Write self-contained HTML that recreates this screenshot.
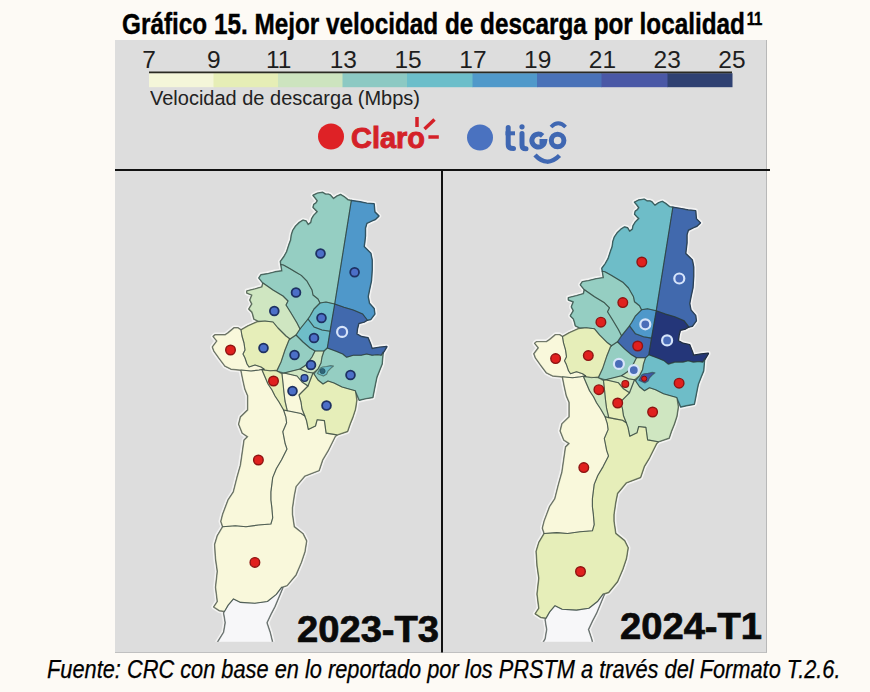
<!DOCTYPE html>
<html><head><meta charset="utf-8">
<style>
html,body{margin:0;padding:0;}
body{width:870px;height:692px;background:#FDFAF5;position:relative;overflow:hidden;font-family:"Liberation Sans",sans-serif;}
.abs{position:absolute;white-space:nowrap;}
#title{left:122px;top:9.4px;font-weight:bold;font-size:29.3px;line-height:29.3px;color:#000;transform-origin:0 0;transform:scaleX(0.830);-webkit-text-stroke:0.4px #000;}
#title sup{font-size:18px;vertical-align:0;position:relative;top:-9px;margin-left:2px;}
#panel{left:115px;top:40px;width:651px;height:612px;background:#DDDDDD;border-right:1px solid #B8B8B8;border-bottom:1px solid #C0C0C0;}
.num{position:absolute;top:45.8px;font-size:24.5px;line-height:28px;color:#1E1E1E;}
#vel{left:150px;top:85.5px;font-size:20.5px;line-height:24px;color:#222;transform-origin:0 0;transform:scaleX(0.975);}
#foot{left:47px;top:656.9px;font-style:italic;font-size:25.4px;line-height:25.4px;color:#000;transform-origin:0 0;transform:scaleX(0.858);-webkit-text-stroke:0.25px #000;}
.big{position:absolute;font-weight:bold;font-size:36.5px;line-height:36.5px;color:#0A0A0A;transform-origin:0 0;transform:scaleX(1.045);-webkit-text-stroke:0.7px #0A0A0A;}
</style></head><body>
<div id="title" class="abs">Gráfico 15. Mejor velocidad de descarga por localidad<sup>11</sup></div>
<div id="panel" class="abs"></div>
<svg width="870" height="692" style="position:absolute;left:0;top:0">
<g>
<rect x="149" y="73.2" width="65" height="14" fill="#F4F6D9"/>
<rect x="213.5" y="73.2" width="65" height="14" fill="#E6EEB6"/>
<rect x="278" y="73.2" width="65" height="14" fill="#CDE4BF"/>
<rect x="342.5" y="73.2" width="65" height="14" fill="#8CC9C3"/>
<rect x="407" y="73.2" width="66" height="14" fill="#6CBECA"/>
<rect x="472.5" y="73.2" width="65" height="14" fill="#5099CA"/>
<rect x="537" y="73.2" width="65" height="14" fill="#4A72B8"/>
<rect x="601.5" y="73.2" width="66.5" height="14" fill="#4A58A6"/>
<rect x="667.5" y="73.2" width="65" height="14" fill="#2F4172"/>
<line x1="149" y1="72.4" x2="732" y2="72.4" stroke="#2A2A22" stroke-width="1.6"/>
</g>
<!-- logos -->
<circle cx="331" cy="136.5" r="13" fill="#DE2226"/>
<text x="351" y="147.5" font-family="Liberation Sans" font-weight="bold" font-size="29" fill="#D42128" stroke="#D42128" stroke-width="0.9" textLength="74" lengthAdjust="spacingAndGlyphs">Claro</text>
<g stroke="#D42128" stroke-width="3.5" stroke-linecap="butt">
<line x1="417" y1="117" x2="417" y2="127"/>
<line x1="424.5" y1="129" x2="434.5" y2="119.5"/>
<line x1="428.4" y1="137" x2="438.8" y2="137"/>
</g>
<circle cx="480" cy="137.5" r="13" fill="#4A72C0"/>
<g fill="none" stroke="#3F67B2" stroke-linecap="round">
<path d="M508.2 127.5 V144.5 Q508.2 148.6 513.5 148.6" stroke-width="5"/>
<path d="M505.5 133.3 H515" stroke-width="4" stroke-linecap="butt"/>
<circle cx="522" cy="126.8" r="2.6" fill="#3F67B2" stroke="none"/>
<path d="M522 133.5 V145 Q522 148.8 526 148.8" stroke-width="5"/>
<path d="M542.6 135.8 A6.4 6.4 0 1 0 544.6 141.5 H539.5" stroke-width="5" stroke-linecap="butt"/>
<circle cx="557.6" cy="140.5" r="6.3" stroke-width="5"/>
<path d="M551 127 Q558.2 119.5 565.6 127" stroke-width="3.8" stroke-linecap="butt"/>
<path d="M535 155 Q547 168 559.5 155.5" stroke-width="4.5" stroke-linecap="butt"/>
</g>
<line x1="115" y1="170" x2="770" y2="170" stroke="#111" stroke-width="2"/>
<line x1="442" y1="169" x2="442" y2="652.5" stroke="#111" stroke-width="2"/>
<defs><clipPath id="clp"><rect x="115" y="170" width="652" height="471.7"/></clipPath></defs>
<g clip-path="url(#clp)">
<g fill="none" stroke="#F3F3F2" stroke-width="5" stroke-linejoin="round">
<polygon points="283.6,410.0 287.3,410.8 294.8,412.3 301.0,413.5 304.8,416.0 306.5,420.6 308.3,429.5 315.5,426.0 317.2,419.7 324.4,420.6 326.1,433.1 336.8,434.9 335.0,436.7 327.9,450.9 322.6,459.8 319.0,470.5 304.8,475.9 295.9,486.5 294.1,495.5 292.3,507.9 292.3,514.3 294.1,526.7 303.0,533.9 306.5,541.0 304.8,551.7 301.2,562.4 295.9,574.8 287.0,585.5 281.6,587.3 276.3,594.4 267.4,601.5 254.9,603.3 240.6,602.4 233.5,598.9 228.2,605.1 224.6,611.3 219.3,610.5 213.9,606.9 217.5,601.5 215.7,587.3 217.5,571.3 215.7,558.8 214.8,544.5 217.5,535.6 222.8,526.7 235.3,525.8 246.0,526.7 258.4,525.0 270.9,524.0 272.7,517.8 271.8,507.1 270.9,500.0 270.9,491.9 272.7,477.6 276.3,468.7 281.6,459.8 287.0,449.1 285.2,443.8 282.8,431.7 286.6,422.8 285.8,416.8" fill="none"/>
<polygon points="241.0,370.0 251.0,371.0 259.0,370.0 264.0,369.0 262.0,370.0 265.0,377.0 268.0,384.0 272.0,390.0 275.0,396.0 279.0,402.0 283.6,410.0 285.8,416.8 286.6,422.8 282.8,431.7 285.2,443.8 287.0,449.1 281.6,459.8 276.3,468.7 272.7,477.6 270.9,491.9 270.9,500.0 271.8,507.1 272.7,517.8 270.9,524.0 258.4,525.0 246.0,526.7 235.3,525.8 222.8,526.7 221.0,521.4 222.8,514.3 228.2,500.0 233.5,491.9 237.1,477.6 240.6,465.2 242.4,452.7 244.2,440.2 247.8,436.7 242.4,433.1 238.8,424.2 240.6,417.0 247.8,410.0 247.8,395.7 245.0,389.0 243.0,380.0" fill="none"/>
<polygon points="233.5,598.9 240.6,602.4 254.9,603.3 267.4,601.5 276.3,594.4 281.6,587.3 282.7,587.7 274.7,606.8 270.9,614.0 266.8,622.7 270.0,632.2 273.1,645.0 215.9,645.0 223.8,632.2 225.4,622.7 223.8,613.0 224.6,611.3 228.2,605.1" fill="none"/>
<polygon points="262.0,370.0 277.0,371.0 282.0,374.0 283.0,383.0 284.0,393.0 285.0,401.0 287.3,410.8 283.6,410.0 279.0,402.0 275.0,396.0 272.0,390.0 268.0,384.0 265.0,377.0" fill="none"/>
<polygon points="282.0,374.0 284.0,373.0 297.0,376.0 302.0,382.0 308.0,386.0 299.0,395.0 301.0,402.0 302.0,409.0 304.8,416.0 301.0,413.5 294.8,412.3 287.3,410.8 285.0,401.0 284.0,393.0 283.0,383.0" fill="none"/>
<polygon points="284.0,373.0 292.0,371.0 300.0,369.0 307.0,372.0 313.0,373.0 308.0,386.0 302.0,382.0 297.0,376.0" fill="none"/>
<polygon points="314.0,374.0 318.0,380.0 323.0,384.0 328.0,381.0 334.0,383.0 342.0,387.0 349.0,389.0 355.3,390.7 356.7,400.0 355.3,409.3 352.7,417.3 350.0,424.0 347.5,431.3 336.8,434.9 326.1,433.1 324.4,420.6 317.2,419.7 315.5,426.0 308.3,429.5 306.5,420.6 304.8,416.0 302.0,409.0 301.0,402.0 299.0,395.0 308.0,386.0 313.0,373.0" fill="none"/>
<polygon points="327.3,348.0 336.0,351.3 342.7,354.0 346.7,357.3 353.3,355.3 361.3,355.3 366.7,354.0 372.0,355.3 377.3,354.7 381.3,355.3 383.0,352.0 382.0,364.0 379.3,370.7 376.7,377.3 375.3,384.0 374.0,390.7 372.7,397.3 364.7,398.7 359.3,400.0 355.3,390.7 349.0,389.0 342.0,387.0 334.0,383.0 328.0,381.0 323.0,384.0 318.0,380.0 314.0,374.0 318.0,369.0 321.0,363.0 322.0,357.0 324.0,351.0" fill="none"/>
<polygon points="315.0,351.0 319.0,351.0 324.0,351.0 322.0,357.0 321.0,363.0 318.0,369.0 313.0,373.0 307.0,372.0 300.0,369.0 306.0,365.0 312.0,357.0" fill="none"/>
<polygon points="296.0,335.0 303.0,342.0 310.0,348.0 315.0,351.0 312.0,357.0 306.0,365.0 300.0,369.0 292.0,371.0 284.0,373.0 277.0,371.0 281.0,362.0 285.0,350.0 289.0,340.0 290.0,339.0" fill="none"/>
<polygon points="308.0,319.0 314.0,327.0 322.0,330.0 330.0,331.3 327.3,348.0 324.0,351.0 319.0,351.0 315.0,351.0 310.0,348.0 303.0,342.0 296.0,335.0 300.0,329.0" fill="none"/>
<polygon points="320.0,303.0 326.0,302.0 334.7,304.0 330.0,331.3 322.0,330.0 314.0,327.0 308.0,319.0 310.0,316.0 314.0,309.0" fill="none"/>
<polygon points="241.0,330.0 248.0,326.0 257.0,322.0 265.0,321.0 273.0,322.0 278.0,328.0 282.0,332.0 286.0,336.0 290.0,339.0 289.0,340.0 285.0,350.0 281.0,362.0 277.0,370.0 270.0,371.0 265.0,370.0 261.0,367.0 255.0,365.0 249.0,367.0 247.0,364.0 245.0,358.0 243.0,354.0 245.0,350.0 244.0,343.0 242.0,336.0" fill="none"/>
<polygon points="241.0,330.0 238.0,328.0 234.0,328.0 228.0,333.0 225.0,335.0 220.0,335.0 215.0,335.0 213.3,336.5 217.0,341.0 212.5,347.0 214.0,351.0 219.0,358.0 225.0,366.0 231.0,369.0 241.0,370.0 251.0,371.0 259.0,370.0 264.0,369.0 261.0,367.0 255.0,365.0 249.0,367.0 247.0,364.0 245.0,358.0 243.0,354.0 245.0,350.0 244.0,343.0 242.0,336.0" fill="none"/>
<polygon points="263.0,283.0 273.0,290.0 283.0,296.0 288.0,301.0 286.0,305.0 291.0,313.0 297.0,323.0 300.0,329.0 296.0,335.0 290.0,339.0 286.0,336.0 282.0,332.0 278.0,328.0 273.0,322.0 265.0,321.0 258.0,321.0 254.0,319.0 253.0,315.0 252.0,312.0 249.0,309.0 252.0,304.0 250.0,300.0 252.0,295.0 247.0,293.0 247.0,291.0 255.0,289.0 262.0,287.0" fill="none"/>
<polygon points="283.4,265.0 289.7,268.5 295.5,272.0 301.3,275.4 307.0,281.2 312.0,290.0 313.0,295.0 318.0,299.0 320.0,303.0 314.0,309.0 310.0,316.0 308.0,319.0 300.0,329.0 297.0,323.0 291.0,313.0 286.0,305.0 288.0,301.0 283.0,296.0 273.0,290.0 263.0,283.0 259.0,278.0 261.0,275.0 267.0,274.0 275.0,272.0 282.0,271.0 281.0,264.5" fill="none"/>
<polygon points="313.2,195.4 317.5,193.3 322.6,192.5 325.5,194.3 328.4,194.3 330.2,195.1 333.4,198.7 337.3,196.0 340.7,194.7 344.0,196.7 348.0,200.0 351.3,200.7 334.7,304.0 326.0,302.0 320.0,303.0 318.0,299.0 313.0,295.0 312.0,290.0 307.0,281.2 301.3,275.4 295.5,272.0 289.7,268.5 283.4,265.0 281.0,264.5 280.5,261.6 283.9,256.9 286.7,252.0 289.3,244.0 290.8,240.0 291.5,234.8 292.9,230.5 295.8,226.1 299.5,222.5 303.1,220.3 306.0,221.1 308.1,224.7 311.0,222.5 311.7,218.9 313.9,215.3 317.5,211.7 315.3,209.5 313.2,207.3 313.9,204.5 316.1,203.0 317.5,200.8 315.3,197.9" fill="none"/>
<polygon points="351.3,200.7 360.0,202.0 366.7,203.3 374.0,204.0 374.7,212.0 378.7,216.0 375.3,219.3 372.0,220.7 366.7,223.3 365.3,228.0 365.3,236.0 364.7,241.3 364.0,246.7 368.0,250.7 370.7,253.3 372.0,260.0 372.0,270.0 371.3,280.7 369.3,290.0 368.0,296.7 369.3,303.3 374.0,308.7 374.7,314.0 370.7,319.3 367.3,320.0 362.7,314.0 353.3,310.0 344.0,307.3 334.7,304.0" fill="none"/>
<polygon points="334.7,304.0 344.0,307.3 353.3,310.0 362.7,314.0 367.3,320.0 364.0,322.0 358.7,323.3 357.3,328.7 356.7,334.0 361.3,336.7 368.0,338.0 370.7,344.7 372.0,348.7 380.0,347.3 386.7,346.7 384.0,351.3 381.3,355.3 377.3,354.7 372.0,355.3 366.7,354.0 361.3,355.3 353.3,355.3 346.7,357.3 342.7,354.0 336.0,351.3 327.3,348.0 330.0,331.3" fill="none"/>
<polygon points="317.4,373.4 320.2,368.3 322.5,367.0 326.6,366.5 330.7,365.6 333.5,366.0 330.7,368.3 328.0,371.1 326.6,374.3 323.4,376.1 318.8,374.3" fill="none"/>
<polygon points="605.1,416.8 608.8,417.6 616.3,419.1 622.5,420.3 626.3,422.8 628.0,427.4 629.8,436.3 637.0,432.8 638.7,426.5 645.9,427.4 647.6,439.9 658.3,441.7 656.5,443.5 649.4,457.7 644.1,466.6 640.5,477.3 626.3,482.7 617.4,493.3 615.6,502.3 613.8,514.7 613.8,521.1 615.6,533.5 624.5,540.7 628.0,547.8 626.3,558.5 622.7,569.2 617.4,581.6 608.5,592.3 603.1,594.1 597.8,601.2 588.9,608.3 576.4,610.1 562.1,609.2 555.0,605.7 549.7,611.9 546.1,618.1 540.8,617.3 535.4,613.7 539.0,608.3 537.2,594.1 539.0,578.1 537.2,565.6 536.3,551.3 539.0,542.4 544.3,533.5 556.8,532.6 567.5,533.5 579.9,531.8 592.4,530.8 594.2,524.6 593.3,513.9 592.4,506.8 592.4,498.7 594.2,484.4 597.8,475.5 603.1,466.6 608.5,455.9 606.7,450.6 604.3,438.5 608.1,429.6 607.3,423.6" fill="none"/>
<polygon points="562.5,376.8 572.5,377.8 580.5,376.8 585.5,375.8 583.5,376.8 586.5,383.8 589.5,390.8 593.5,396.8 596.5,402.8 600.5,408.8 605.1,416.8 607.3,423.6 608.1,429.6 604.3,438.5 606.7,450.6 608.5,455.9 603.1,466.6 597.8,475.5 594.2,484.4 592.4,498.7 592.4,506.8 593.3,513.9 594.2,524.6 592.4,530.8 579.9,531.8 567.5,533.5 556.8,532.6 544.3,533.5 542.5,528.2 544.3,521.1 549.7,506.8 555.0,498.7 558.6,484.4 562.1,472.0 563.9,459.5 565.7,447.0 569.3,443.5 563.9,439.9 560.3,431.0 562.1,423.8 569.3,416.8 569.3,402.5 566.5,395.8 564.5,386.8" fill="none"/>
<polygon points="555.0,605.7 562.1,609.2 576.4,610.1 588.9,608.3 597.8,601.2 603.1,594.1 604.2,594.5 596.2,613.6 592.4,620.8 588.3,629.5 591.5,639.0 594.6,651.8 537.4,651.8 545.3,639.0 546.9,629.5 545.3,619.8 546.1,618.1 549.7,611.9" fill="none"/>
<polygon points="583.5,376.8 598.5,377.8 603.5,380.8 604.5,389.8 605.5,399.8 606.5,407.8 608.8,417.6 605.1,416.8 600.5,408.8 596.5,402.8 593.5,396.8 589.5,390.8 586.5,383.8" fill="none"/>
<polygon points="603.5,380.8 605.5,379.8 618.5,382.8 623.5,388.8 629.5,392.8 620.5,401.8 622.5,408.8 623.5,415.8 626.3,422.8 622.5,420.3 616.3,419.1 608.8,417.6 606.5,407.8 605.5,399.8 604.5,389.8" fill="none"/>
<polygon points="605.5,379.8 613.5,377.8 621.5,375.8 628.5,378.8 634.5,379.8 629.5,392.8 623.5,388.8 618.5,382.8" fill="none"/>
<polygon points="635.5,380.8 639.5,386.8 644.5,390.8 649.5,387.8 655.5,389.8 663.5,393.8 670.5,395.8 676.8,397.5 678.2,406.8 676.8,416.1 674.2,424.1 671.5,430.8 669.0,438.1 658.3,441.7 647.6,439.9 645.9,427.4 638.7,426.5 637.0,432.8 629.8,436.3 628.0,427.4 626.3,422.8 623.5,415.8 622.5,408.8 620.5,401.8 629.5,392.8 634.5,379.8" fill="none"/>
<polygon points="648.8,354.8 657.5,358.1 664.2,360.8 668.2,364.1 674.8,362.1 682.8,362.1 688.2,360.8 693.5,362.1 698.8,361.5 702.8,362.1 704.5,358.8 703.5,370.8 700.8,377.5 698.2,384.1 696.8,390.8 695.5,397.5 694.2,404.1 686.2,405.5 680.8,406.8 676.8,397.5 670.5,395.8 663.5,393.8 655.5,389.8 649.5,387.8 644.5,390.8 639.5,386.8 635.5,380.8 639.5,375.8 642.5,369.8 643.5,363.8 645.5,357.8" fill="none"/>
<polygon points="636.5,357.8 640.5,357.8 645.5,357.8 643.5,363.8 642.5,369.8 639.5,375.8 634.5,379.8 628.5,378.8 621.5,375.8 627.5,371.8 633.5,363.8" fill="none"/>
<polygon points="617.5,341.8 624.5,348.8 631.5,354.8 636.5,357.8 633.5,363.8 627.5,371.8 621.5,375.8 613.5,377.8 605.5,379.8 598.5,377.8 602.5,368.8 606.5,356.8 610.5,346.8 611.5,345.8" fill="none"/>
<polygon points="629.5,325.8 635.5,333.8 643.5,336.8 651.5,338.1 648.8,354.8 645.5,357.8 640.5,357.8 636.5,357.8 631.5,354.8 624.5,348.8 617.5,341.8 621.5,335.8" fill="none"/>
<polygon points="641.5,309.8 647.5,308.8 656.2,310.8 651.5,338.1 643.5,336.8 635.5,333.8 629.5,325.8 631.5,322.8 635.5,315.8" fill="none"/>
<polygon points="562.5,336.8 569.5,332.8 578.5,328.8 586.5,327.8 594.5,328.8 599.5,334.8 603.5,338.8 607.5,342.8 611.5,345.8 610.5,346.8 606.5,356.8 602.5,368.8 598.5,376.8 591.5,377.8 586.5,376.8 582.5,373.8 576.5,371.8 570.5,373.8 568.5,370.8 566.5,364.8 564.5,360.8 566.5,356.8 565.5,349.8 563.5,342.8" fill="none"/>
<polygon points="562.5,336.8 559.5,334.8 555.5,334.8 549.5,339.8 546.5,341.8 541.5,341.8 536.5,341.8 534.8,343.3 538.5,347.8 534.0,353.8 535.5,357.8 540.5,364.8 546.5,372.8 552.5,375.8 562.5,376.8 572.5,377.8 580.5,376.8 585.5,375.8 582.5,373.8 576.5,371.8 570.5,373.8 568.5,370.8 566.5,364.8 564.5,360.8 566.5,356.8 565.5,349.8 563.5,342.8" fill="none"/>
<polygon points="584.5,289.8 594.5,296.8 604.5,302.8 609.5,307.8 607.5,311.8 612.5,319.8 618.5,329.8 621.5,335.8 617.5,341.8 611.5,345.8 607.5,342.8 603.5,338.8 599.5,334.8 594.5,328.8 586.5,327.8 579.5,327.8 575.5,325.8 574.5,321.8 573.5,318.8 570.5,315.8 573.5,310.8 571.5,306.8 573.5,301.8 568.5,299.8 568.5,297.8 576.5,295.8 583.5,293.8" fill="none"/>
<polygon points="604.9,271.8 611.2,275.3 617.0,278.8 622.8,282.2 628.5,288.0 633.5,296.8 634.5,301.8 639.5,305.8 641.5,309.8 635.5,315.8 631.5,322.8 629.5,325.8 621.5,335.8 618.5,329.8 612.5,319.8 607.5,311.8 609.5,307.8 604.5,302.8 594.5,296.8 584.5,289.8 580.5,284.8 582.5,281.8 588.5,280.8 596.5,278.8 603.5,277.8 602.5,271.3" fill="none"/>
<polygon points="634.7,202.2 639.0,200.1 644.1,199.3 647.0,201.1 649.9,201.1 651.7,201.9 654.9,205.5 658.8,202.8 662.2,201.5 665.5,203.5 669.5,206.8 672.8,207.5 656.2,310.8 647.5,308.8 641.5,309.8 639.5,305.8 634.5,301.8 633.5,296.8 628.5,288.0 622.8,282.2 617.0,278.8 611.2,275.3 604.9,271.8 602.5,271.3 602.0,268.4 605.4,263.7 608.2,258.8 610.8,250.8 612.3,246.8 613.0,241.6 614.4,237.3 617.3,232.9 621.0,229.3 624.6,227.1 627.5,227.9 629.6,231.5 632.5,229.3 633.2,225.7 635.4,222.1 639.0,218.5 636.8,216.3 634.7,214.1 635.4,211.3 637.6,209.8 639.0,207.6 636.8,204.7" fill="none"/>
<polygon points="672.8,207.5 681.5,208.8 688.2,210.1 695.5,210.8 696.2,218.8 700.2,222.8 696.8,226.1 693.5,227.5 688.2,230.1 686.8,234.8 686.8,242.8 686.2,248.1 685.5,253.5 689.5,257.5 692.2,260.1 693.5,266.8 693.5,276.8 692.8,287.5 690.8,296.8 689.5,303.5 690.8,310.1 695.5,315.5 696.2,320.8 692.2,326.1 688.8,326.8 684.2,320.8 674.8,316.8 665.5,314.1 656.2,310.8" fill="none"/>
<polygon points="656.2,310.8 665.5,314.1 674.8,316.8 684.2,320.8 688.8,326.8 685.5,328.8 680.2,330.1 678.8,335.5 678.2,340.8 682.8,343.5 689.5,344.8 692.2,351.5 693.5,355.5 701.5,354.1 708.2,353.5 705.5,358.1 702.8,362.1 698.8,361.5 693.5,362.1 688.2,360.8 682.8,362.1 674.8,362.1 668.2,364.1 664.2,360.8 657.5,358.1 648.8,354.8 651.5,338.1" fill="none"/>
<polygon points="638.9,380.2 641.7,375.1 644.0,373.8 648.1,373.3 652.2,372.4 655.0,372.8 652.2,375.1 649.5,377.9 648.1,381.1 644.9,382.9 640.3,381.1" fill="none"/>
</g>
<g fill="none" stroke-width="1.8" stroke-linejoin="round">
<polygon points="283.6,410.0 287.3,410.8 294.8,412.3 301.0,413.5 304.8,416.0 306.5,420.6 308.3,429.5 315.5,426.0 317.2,419.7 324.4,420.6 326.1,433.1 336.8,434.9 335.0,436.7 327.9,450.9 322.6,459.8 319.0,470.5 304.8,475.9 295.9,486.5 294.1,495.5 292.3,507.9 292.3,514.3 294.1,526.7 303.0,533.9 306.5,541.0 304.8,551.7 301.2,562.4 295.9,574.8 287.0,585.5 281.6,587.3 276.3,594.4 267.4,601.5 254.9,603.3 240.6,602.4 233.5,598.9 228.2,605.1 224.6,611.3 219.3,610.5 213.9,606.9 217.5,601.5 215.7,587.3 217.5,571.3 215.7,558.8 214.8,544.5 217.5,535.6 222.8,526.7 235.3,525.8 246.0,526.7 258.4,525.0 270.9,524.0 272.7,517.8 271.8,507.1 270.9,500.0 270.9,491.9 272.7,477.6 276.3,468.7 281.6,459.8 287.0,449.1 285.2,443.8 282.8,431.7 286.6,422.8 285.8,416.8" stroke="#888878"/>
<polygon points="241.0,370.0 251.0,371.0 259.0,370.0 264.0,369.0 262.0,370.0 265.0,377.0 268.0,384.0 272.0,390.0 275.0,396.0 279.0,402.0 283.6,410.0 285.8,416.8 286.6,422.8 282.8,431.7 285.2,443.8 287.0,449.1 281.6,459.8 276.3,468.7 272.7,477.6 270.9,491.9 270.9,500.0 271.8,507.1 272.7,517.8 270.9,524.0 258.4,525.0 246.0,526.7 235.3,525.8 222.8,526.7 221.0,521.4 222.8,514.3 228.2,500.0 233.5,491.9 237.1,477.6 240.6,465.2 242.4,452.7 244.2,440.2 247.8,436.7 242.4,433.1 238.8,424.2 240.6,417.0 247.8,410.0 247.8,395.7 245.0,389.0 243.0,380.0" stroke="#888878"/>
<polygon points="233.5,598.9 240.6,602.4 254.9,603.3 267.4,601.5 276.3,594.4 281.6,587.3 282.7,587.7 274.7,606.8 270.9,614.0 266.8,622.7 270.0,632.2 273.1,645.0 215.9,645.0 223.8,632.2 225.4,622.7 223.8,613.0 224.6,611.3 228.2,605.1" stroke="#878788"/>
<polygon points="262.0,370.0 277.0,371.0 282.0,374.0 283.0,383.0 284.0,393.0 285.0,401.0 287.3,410.8 283.6,410.0 279.0,402.0 275.0,396.0 272.0,390.0 268.0,384.0 265.0,377.0" stroke="#7E8265"/>
<polygon points="282.0,374.0 284.0,373.0 297.0,376.0 302.0,382.0 308.0,386.0 299.0,395.0 301.0,402.0 302.0,409.0 304.8,416.0 301.0,413.5 294.8,412.3 287.3,410.8 285.0,401.0 284.0,393.0 283.0,383.0" stroke="#888878"/>
<polygon points="284.0,373.0 292.0,371.0 300.0,369.0 307.0,372.0 313.0,373.0 308.0,386.0 302.0,382.0 297.0,376.0" stroke="#717E6A"/>
<polygon points="314.0,374.0 318.0,380.0 323.0,384.0 328.0,381.0 334.0,383.0 342.0,387.0 349.0,389.0 355.3,390.7 356.7,400.0 355.3,409.3 352.7,417.3 350.0,424.0 347.5,431.3 336.8,434.9 326.1,433.1 324.4,420.6 317.2,419.7 315.5,426.0 308.3,429.5 306.5,420.6 304.8,416.0 302.0,409.0 301.0,402.0 299.0,395.0 308.0,386.0 313.0,373.0" stroke="#7E8265"/>
<polygon points="327.3,348.0 336.0,351.3 342.7,354.0 346.7,357.3 353.3,355.3 361.3,355.3 366.7,354.0 372.0,355.3 377.3,354.7 381.3,355.3 383.0,352.0 382.0,364.0 379.3,370.7 376.7,377.3 375.3,384.0 374.0,390.7 372.7,397.3 364.7,398.7 359.3,400.0 355.3,390.7 349.0,389.0 342.0,387.0 334.0,383.0 328.0,381.0 323.0,384.0 318.0,380.0 314.0,374.0 318.0,369.0 321.0,363.0 322.0,357.0 324.0,351.0" stroke="#51716A"/>
<polygon points="315.0,351.0 319.0,351.0 324.0,351.0 322.0,357.0 321.0,363.0 318.0,369.0 313.0,373.0 307.0,372.0 300.0,369.0 306.0,365.0 312.0,357.0" stroke="#717E6A"/>
<polygon points="296.0,335.0 303.0,342.0 310.0,348.0 315.0,351.0 312.0,357.0 306.0,365.0 300.0,369.0 292.0,371.0 284.0,373.0 277.0,371.0 281.0,362.0 285.0,350.0 289.0,340.0 290.0,339.0" stroke="#51716A"/>
<polygon points="308.0,319.0 314.0,327.0 322.0,330.0 330.0,331.3 327.3,348.0 324.0,351.0 319.0,351.0 315.0,351.0 310.0,348.0 303.0,342.0 296.0,335.0 300.0,329.0" stroke="#3C676E"/>
<polygon points="320.0,303.0 326.0,302.0 334.7,304.0 330.0,331.3 322.0,330.0 314.0,327.0 308.0,319.0 310.0,316.0 314.0,309.0" stroke="#3C676E"/>
<polygon points="241.0,330.0 248.0,326.0 257.0,322.0 265.0,321.0 273.0,322.0 278.0,328.0 282.0,332.0 286.0,336.0 290.0,339.0 289.0,340.0 285.0,350.0 281.0,362.0 277.0,370.0 270.0,371.0 265.0,370.0 261.0,367.0 255.0,365.0 249.0,367.0 247.0,364.0 245.0,358.0 243.0,354.0 245.0,350.0 244.0,343.0 242.0,336.0" stroke="#7E8265"/>
<polygon points="241.0,330.0 238.0,328.0 234.0,328.0 228.0,333.0 225.0,335.0 220.0,335.0 215.0,335.0 213.3,336.5 217.0,341.0 212.5,347.0 214.0,351.0 219.0,358.0 225.0,366.0 231.0,369.0 241.0,370.0 251.0,371.0 259.0,370.0 264.0,369.0 261.0,367.0 255.0,365.0 249.0,367.0 247.0,364.0 245.0,358.0 243.0,354.0 245.0,350.0 244.0,343.0 242.0,336.0" stroke="#888878"/>
<polygon points="263.0,283.0 273.0,290.0 283.0,296.0 288.0,301.0 286.0,305.0 291.0,313.0 297.0,323.0 300.0,329.0 296.0,335.0 290.0,339.0 286.0,336.0 282.0,332.0 278.0,328.0 273.0,322.0 265.0,321.0 258.0,321.0 254.0,319.0 253.0,315.0 252.0,312.0 249.0,309.0 252.0,304.0 250.0,300.0 252.0,295.0 247.0,293.0 247.0,291.0 255.0,289.0 262.0,287.0" stroke="#717E6A"/>
<polygon points="283.4,265.0 289.7,268.5 295.5,272.0 301.3,275.4 307.0,281.2 312.0,290.0 313.0,295.0 318.0,299.0 320.0,303.0 314.0,309.0 310.0,316.0 308.0,319.0 300.0,329.0 297.0,323.0 291.0,313.0 286.0,305.0 288.0,301.0 283.0,296.0 273.0,290.0 263.0,283.0 259.0,278.0 261.0,275.0 267.0,274.0 275.0,272.0 282.0,271.0 281.0,264.5" stroke="#51716A"/>
<polygon points="313.2,195.4 317.5,193.3 322.6,192.5 325.5,194.3 328.4,194.3 330.2,195.1 333.4,198.7 337.3,196.0 340.7,194.7 344.0,196.7 348.0,200.0 351.3,200.7 334.7,304.0 326.0,302.0 320.0,303.0 318.0,299.0 313.0,295.0 312.0,290.0 307.0,281.2 301.3,275.4 295.5,272.0 289.7,268.5 283.4,265.0 281.0,264.5 280.5,261.6 283.9,256.9 286.7,252.0 289.3,244.0 290.8,240.0 291.5,234.8 292.9,230.5 295.8,226.1 299.5,222.5 303.1,220.3 306.0,221.1 308.1,224.7 311.0,222.5 311.7,218.9 313.9,215.3 317.5,211.7 315.3,209.5 313.2,207.3 313.9,204.5 316.1,203.0 317.5,200.8 315.3,197.9" stroke="#51716A"/>
<polygon points="351.3,200.7 360.0,202.0 366.7,203.3 374.0,204.0 374.7,212.0 378.7,216.0 375.3,219.3 372.0,220.7 366.7,223.3 365.3,228.0 365.3,236.0 364.7,241.3 364.0,246.7 368.0,250.7 370.7,253.3 372.0,260.0 372.0,270.0 371.3,280.7 369.3,290.0 368.0,296.7 369.3,303.3 374.0,308.7 374.7,314.0 370.7,319.3 367.3,320.0 362.7,314.0 353.3,310.0 344.0,307.3 334.7,304.0" stroke="#2B536F"/>
<polygon points="334.7,304.0 344.0,307.3 353.3,310.0 362.7,314.0 367.3,320.0 364.0,322.0 358.7,323.3 357.3,328.7 356.7,334.0 361.3,336.7 368.0,338.0 370.7,344.7 372.0,348.7 380.0,347.3 386.7,346.7 384.0,351.3 381.3,355.3 377.3,354.7 372.0,355.3 366.7,354.0 361.3,355.3 353.3,355.3 346.7,357.3 342.7,354.0 336.0,351.3 327.3,348.0 330.0,331.3" stroke="#23395F"/>
<polygon points="317.4,373.4 320.2,368.3 322.5,367.0 326.6,366.5 330.7,365.6 333.5,366.0 330.7,368.3 328.0,371.1 326.6,374.3 323.4,376.1 318.8,374.3" stroke="#3C676E"/>
<polygon points="605.1,416.8 608.8,417.6 616.3,419.1 622.5,420.3 626.3,422.8 628.0,427.4 629.8,436.3 637.0,432.8 638.7,426.5 645.9,427.4 647.6,439.9 658.3,441.7 656.5,443.5 649.4,457.7 644.1,466.6 640.5,477.3 626.3,482.7 617.4,493.3 615.6,502.3 613.8,514.7 613.8,521.1 615.6,533.5 624.5,540.7 628.0,547.8 626.3,558.5 622.7,569.2 617.4,581.6 608.5,592.3 603.1,594.1 597.8,601.2 588.9,608.3 576.4,610.1 562.1,609.2 555.0,605.7 549.7,611.9 546.1,618.1 540.8,617.3 535.4,613.7 539.0,608.3 537.2,594.1 539.0,578.1 537.2,565.6 536.3,551.3 539.0,542.4 544.3,533.5 556.8,532.6 567.5,533.5 579.9,531.8 592.4,530.8 594.2,524.6 593.3,513.9 592.4,506.8 592.4,498.7 594.2,484.4 597.8,475.5 603.1,466.6 608.5,455.9 606.7,450.6 604.3,438.5 608.1,429.6 607.3,423.6" stroke="#7E8265"/>
<polygon points="562.5,376.8 572.5,377.8 580.5,376.8 585.5,375.8 583.5,376.8 586.5,383.8 589.5,390.8 593.5,396.8 596.5,402.8 600.5,408.8 605.1,416.8 607.3,423.6 608.1,429.6 604.3,438.5 606.7,450.6 608.5,455.9 603.1,466.6 597.8,475.5 594.2,484.4 592.4,498.7 592.4,506.8 593.3,513.9 594.2,524.6 592.4,530.8 579.9,531.8 567.5,533.5 556.8,532.6 544.3,533.5 542.5,528.2 544.3,521.1 549.7,506.8 555.0,498.7 558.6,484.4 562.1,472.0 563.9,459.5 565.7,447.0 569.3,443.5 563.9,439.9 560.3,431.0 562.1,423.8 569.3,416.8 569.3,402.5 566.5,395.8 564.5,386.8" stroke="#888878"/>
<polygon points="555.0,605.7 562.1,609.2 576.4,610.1 588.9,608.3 597.8,601.2 603.1,594.1 604.2,594.5 596.2,613.6 592.4,620.8 588.3,629.5 591.5,639.0 594.6,651.8 537.4,651.8 545.3,639.0 546.9,629.5 545.3,619.8 546.1,618.1 549.7,611.9" stroke="#878788"/>
<polygon points="583.5,376.8 598.5,377.8 603.5,380.8 604.5,389.8 605.5,399.8 606.5,407.8 608.8,417.6 605.1,416.8 600.5,408.8 596.5,402.8 593.5,396.8 589.5,390.8 586.5,383.8" stroke="#717E6A"/>
<polygon points="603.5,380.8 605.5,379.8 618.5,382.8 623.5,388.8 629.5,392.8 620.5,401.8 622.5,408.8 623.5,415.8 626.3,422.8 622.5,420.3 616.3,419.1 608.8,417.6 606.5,407.8 605.5,399.8 604.5,389.8" stroke="#7E8265"/>
<polygon points="605.5,379.8 613.5,377.8 621.5,375.8 628.5,378.8 634.5,379.8 629.5,392.8 623.5,388.8 618.5,382.8" stroke="#717E6A"/>
<polygon points="635.5,380.8 639.5,386.8 644.5,390.8 649.5,387.8 655.5,389.8 663.5,393.8 670.5,395.8 676.8,397.5 678.2,406.8 676.8,416.1 674.2,424.1 671.5,430.8 669.0,438.1 658.3,441.7 647.6,439.9 645.9,427.4 638.7,426.5 637.0,432.8 629.8,436.3 628.0,427.4 626.3,422.8 623.5,415.8 622.5,408.8 620.5,401.8 629.5,392.8 634.5,379.8" stroke="#717E6A"/>
<polygon points="648.8,354.8 657.5,358.1 664.2,360.8 668.2,364.1 674.8,362.1 682.8,362.1 688.2,360.8 693.5,362.1 698.8,361.5 702.8,362.1 704.5,358.8 703.5,370.8 700.8,377.5 698.2,384.1 696.8,390.8 695.5,397.5 694.2,404.1 686.2,405.5 680.8,406.8 676.8,397.5 670.5,395.8 663.5,393.8 655.5,389.8 649.5,387.8 644.5,390.8 639.5,386.8 635.5,380.8 639.5,375.8 642.5,369.8 643.5,363.8 645.5,357.8" stroke="#3C676E"/>
<polygon points="636.5,357.8 640.5,357.8 645.5,357.8 643.5,363.8 642.5,369.8 639.5,375.8 634.5,379.8 628.5,378.8 621.5,375.8 627.5,371.8 633.5,363.8" stroke="#717E6A"/>
<polygon points="617.5,341.8 624.5,348.8 631.5,354.8 636.5,357.8 633.5,363.8 627.5,371.8 621.5,375.8 613.5,377.8 605.5,379.8 598.5,377.8 602.5,368.8 606.5,356.8 610.5,346.8 611.5,345.8" stroke="#51716A"/>
<polygon points="629.5,325.8 635.5,333.8 643.5,336.8 651.5,338.1 648.8,354.8 645.5,357.8 640.5,357.8 636.5,357.8 631.5,354.8 624.5,348.8 617.5,341.8 621.5,335.8" stroke="#23395F"/>
<polygon points="641.5,309.8 647.5,308.8 656.2,310.8 651.5,338.1 643.5,336.8 635.5,333.8 629.5,325.8 631.5,322.8 635.5,315.8" stroke="#2B536F"/>
<polygon points="562.5,336.8 569.5,332.8 578.5,328.8 586.5,327.8 594.5,328.8 599.5,334.8 603.5,338.8 607.5,342.8 611.5,345.8 610.5,346.8 606.5,356.8 602.5,368.8 598.5,376.8 591.5,377.8 586.5,376.8 582.5,373.8 576.5,371.8 570.5,373.8 568.5,370.8 566.5,364.8 564.5,360.8 566.5,356.8 565.5,349.8 563.5,342.8" stroke="#7E8265"/>
<polygon points="562.5,336.8 559.5,334.8 555.5,334.8 549.5,339.8 546.5,341.8 541.5,341.8 536.5,341.8 534.8,343.3 538.5,347.8 534.0,353.8 535.5,357.8 540.5,364.8 546.5,372.8 552.5,375.8 562.5,376.8 572.5,377.8 580.5,376.8 585.5,375.8 582.5,373.8 576.5,371.8 570.5,373.8 568.5,370.8 566.5,364.8 564.5,360.8 566.5,356.8 565.5,349.8 563.5,342.8" stroke="#888878"/>
<polygon points="584.5,289.8 594.5,296.8 604.5,302.8 609.5,307.8 607.5,311.8 612.5,319.8 618.5,329.8 621.5,335.8 617.5,341.8 611.5,345.8 607.5,342.8 603.5,338.8 599.5,334.8 594.5,328.8 586.5,327.8 579.5,327.8 575.5,325.8 574.5,321.8 573.5,318.8 570.5,315.8 573.5,310.8 571.5,306.8 573.5,301.8 568.5,299.8 568.5,297.8 576.5,295.8 583.5,293.8" stroke="#51716A"/>
<polygon points="604.9,271.8 611.2,275.3 617.0,278.8 622.8,282.2 628.5,288.0 633.5,296.8 634.5,301.8 639.5,305.8 641.5,309.8 635.5,315.8 631.5,322.8 629.5,325.8 621.5,335.8 618.5,329.8 612.5,319.8 607.5,311.8 609.5,307.8 604.5,302.8 594.5,296.8 584.5,289.8 580.5,284.8 582.5,281.8 588.5,280.8 596.5,278.8 603.5,277.8 602.5,271.3" stroke="#51716A"/>
<polygon points="634.7,202.2 639.0,200.1 644.1,199.3 647.0,201.1 649.9,201.1 651.7,201.9 654.9,205.5 658.8,202.8 662.2,201.5 665.5,203.5 669.5,206.8 672.8,207.5 656.2,310.8 647.5,308.8 641.5,309.8 639.5,305.8 634.5,301.8 633.5,296.8 628.5,288.0 622.8,282.2 617.0,278.8 611.2,275.3 604.9,271.8 602.5,271.3 602.0,268.4 605.4,263.7 608.2,258.8 610.8,250.8 612.3,246.8 613.0,241.6 614.4,237.3 617.3,232.9 621.0,229.3 624.6,227.1 627.5,227.9 629.6,231.5 632.5,229.3 633.2,225.7 635.4,222.1 639.0,218.5 636.8,216.3 634.7,214.1 635.4,211.3 637.6,209.8 639.0,207.6 636.8,204.7" stroke="#3C676E"/>
<polygon points="672.8,207.5 681.5,208.8 688.2,210.1 695.5,210.8 696.2,218.8 700.2,222.8 696.8,226.1 693.5,227.5 688.2,230.1 686.8,234.8 686.8,242.8 686.2,248.1 685.5,253.5 689.5,257.5 692.2,260.1 693.5,266.8 693.5,276.8 692.8,287.5 690.8,296.8 689.5,303.5 690.8,310.1 695.5,315.5 696.2,320.8 692.2,326.1 688.8,326.8 684.2,320.8 674.8,316.8 665.5,314.1 656.2,310.8" stroke="#23395F"/>
<polygon points="656.2,310.8 665.5,314.1 674.8,316.8 684.2,320.8 688.8,326.8 685.5,328.8 680.2,330.1 678.8,335.5 678.2,340.8 682.8,343.5 689.5,344.8 692.2,351.5 693.5,355.5 701.5,354.1 708.2,353.5 705.5,358.1 702.8,362.1 698.8,361.5 693.5,362.1 688.2,360.8 682.8,362.1 674.8,362.1 668.2,364.1 664.2,360.8 657.5,358.1 648.8,354.8 651.5,338.1" stroke="#131D42"/>
<polygon points="638.9,380.2 641.7,375.1 644.0,373.8 648.1,373.3 652.2,372.4 655.0,372.8 652.2,375.1 649.5,377.9 648.1,381.1 644.9,382.9 640.3,381.1" stroke="#22305B"/>
</g>
<polygon points="283.6,410.0 287.3,410.8 294.8,412.3 301.0,413.5 304.8,416.0 306.5,420.6 308.3,429.5 315.5,426.0 317.2,419.7 324.4,420.6 326.1,433.1 336.8,434.9 335.0,436.7 327.9,450.9 322.6,459.8 319.0,470.5 304.8,475.9 295.9,486.5 294.1,495.5 292.3,507.9 292.3,514.3 294.1,526.7 303.0,533.9 306.5,541.0 304.8,551.7 301.2,562.4 295.9,574.8 287.0,585.5 281.6,587.3 276.3,594.4 267.4,601.5 254.9,603.3 240.6,602.4 233.5,598.9 228.2,605.1 224.6,611.3 219.3,610.5 213.9,606.9 217.5,601.5 215.7,587.3 217.5,571.3 215.7,558.8 214.8,544.5 217.5,535.6 222.8,526.7 235.3,525.8 246.0,526.7 258.4,525.0 270.9,524.0 272.7,517.8 271.8,507.1 270.9,500.0 270.9,491.9 272.7,477.6 276.3,468.7 281.6,459.8 287.0,449.1 285.2,443.8 282.8,431.7 286.6,422.8 285.8,416.8" fill="#F9F8DB"/>
<polygon points="241.0,370.0 251.0,371.0 259.0,370.0 264.0,369.0 262.0,370.0 265.0,377.0 268.0,384.0 272.0,390.0 275.0,396.0 279.0,402.0 283.6,410.0 285.8,416.8 286.6,422.8 282.8,431.7 285.2,443.8 287.0,449.1 281.6,459.8 276.3,468.7 272.7,477.6 270.9,491.9 270.9,500.0 271.8,507.1 272.7,517.8 270.9,524.0 258.4,525.0 246.0,526.7 235.3,525.8 222.8,526.7 221.0,521.4 222.8,514.3 228.2,500.0 233.5,491.9 237.1,477.6 240.6,465.2 242.4,452.7 244.2,440.2 247.8,436.7 242.4,433.1 238.8,424.2 240.6,417.0 247.8,410.0 247.8,395.7 245.0,389.0 243.0,380.0" fill="#F9F8DB"/>
<polygon points="233.5,598.9 240.6,602.4 254.9,603.3 267.4,601.5 276.3,594.4 281.6,587.3 282.7,587.7 274.7,606.8 270.9,614.0 266.8,622.7 270.0,632.2 273.1,645.0 215.9,645.0 223.8,632.2 225.4,622.7 223.8,613.0 224.6,611.3 228.2,605.1" fill="#F7F7F9"/>
<polygon points="262.0,370.0 277.0,371.0 282.0,374.0 283.0,383.0 284.0,393.0 285.0,401.0 287.3,410.8 283.6,410.0 279.0,402.0 275.0,396.0 272.0,390.0 268.0,384.0 265.0,377.0" fill="#E6EEB9"/>
<polygon points="282.0,374.0 284.0,373.0 297.0,376.0 302.0,382.0 308.0,386.0 299.0,395.0 301.0,402.0 302.0,409.0 304.8,416.0 301.0,413.5 294.8,412.3 287.3,410.8 285.0,401.0 284.0,393.0 283.0,383.0" fill="#F9F8DB"/>
<polygon points="284.0,373.0 292.0,371.0 300.0,369.0 307.0,372.0 313.0,373.0 308.0,386.0 302.0,382.0 297.0,376.0" fill="#CFE6C1"/>
<polygon points="314.0,374.0 318.0,380.0 323.0,384.0 328.0,381.0 334.0,383.0 342.0,387.0 349.0,389.0 355.3,390.7 356.7,400.0 355.3,409.3 352.7,417.3 350.0,424.0 347.5,431.3 336.8,434.9 326.1,433.1 324.4,420.6 317.2,419.7 315.5,426.0 308.3,429.5 306.5,420.6 304.8,416.0 302.0,409.0 301.0,402.0 299.0,395.0 308.0,386.0 313.0,373.0" fill="#E6EEB9"/>
<polygon points="327.3,348.0 336.0,351.3 342.7,354.0 346.7,357.3 353.3,355.3 361.3,355.3 366.7,354.0 372.0,355.3 377.3,354.7 381.3,355.3 383.0,352.0 382.0,364.0 379.3,370.7 376.7,377.3 375.3,384.0 374.0,390.7 372.7,397.3 364.7,398.7 359.3,400.0 355.3,390.7 349.0,389.0 342.0,387.0 334.0,383.0 328.0,381.0 323.0,384.0 318.0,380.0 314.0,374.0 318.0,369.0 321.0,363.0 322.0,357.0 324.0,351.0" fill="#95CEC2"/>
<polygon points="315.0,351.0 319.0,351.0 324.0,351.0 322.0,357.0 321.0,363.0 318.0,369.0 313.0,373.0 307.0,372.0 300.0,369.0 306.0,365.0 312.0,357.0" fill="#CFE6C1"/>
<polygon points="296.0,335.0 303.0,342.0 310.0,348.0 315.0,351.0 312.0,357.0 306.0,365.0 300.0,369.0 292.0,371.0 284.0,373.0 277.0,371.0 281.0,362.0 285.0,350.0 289.0,340.0 290.0,339.0" fill="#95CEC2"/>
<polygon points="308.0,319.0 314.0,327.0 322.0,330.0 330.0,331.3 327.3,348.0 324.0,351.0 319.0,351.0 315.0,351.0 310.0,348.0 303.0,342.0 296.0,335.0 300.0,329.0" fill="#6EBDC8"/>
<polygon points="320.0,303.0 326.0,302.0 334.7,304.0 330.0,331.3 322.0,330.0 314.0,327.0 308.0,319.0 310.0,316.0 314.0,309.0" fill="#6EBDC8"/>
<polygon points="241.0,330.0 248.0,326.0 257.0,322.0 265.0,321.0 273.0,322.0 278.0,328.0 282.0,332.0 286.0,336.0 290.0,339.0 289.0,340.0 285.0,350.0 281.0,362.0 277.0,370.0 270.0,371.0 265.0,370.0 261.0,367.0 255.0,365.0 249.0,367.0 247.0,364.0 245.0,358.0 243.0,354.0 245.0,350.0 244.0,343.0 242.0,336.0" fill="#E6EEB9"/>
<polygon points="241.0,330.0 238.0,328.0 234.0,328.0 228.0,333.0 225.0,335.0 220.0,335.0 215.0,335.0 213.3,336.5 217.0,341.0 212.5,347.0 214.0,351.0 219.0,358.0 225.0,366.0 231.0,369.0 241.0,370.0 251.0,371.0 259.0,370.0 264.0,369.0 261.0,367.0 255.0,365.0 249.0,367.0 247.0,364.0 245.0,358.0 243.0,354.0 245.0,350.0 244.0,343.0 242.0,336.0" fill="#F9F8DB"/>
<polygon points="263.0,283.0 273.0,290.0 283.0,296.0 288.0,301.0 286.0,305.0 291.0,313.0 297.0,323.0 300.0,329.0 296.0,335.0 290.0,339.0 286.0,336.0 282.0,332.0 278.0,328.0 273.0,322.0 265.0,321.0 258.0,321.0 254.0,319.0 253.0,315.0 252.0,312.0 249.0,309.0 252.0,304.0 250.0,300.0 252.0,295.0 247.0,293.0 247.0,291.0 255.0,289.0 262.0,287.0" fill="#CFE6C1"/>
<polygon points="283.4,265.0 289.7,268.5 295.5,272.0 301.3,275.4 307.0,281.2 312.0,290.0 313.0,295.0 318.0,299.0 320.0,303.0 314.0,309.0 310.0,316.0 308.0,319.0 300.0,329.0 297.0,323.0 291.0,313.0 286.0,305.0 288.0,301.0 283.0,296.0 273.0,290.0 263.0,283.0 259.0,278.0 261.0,275.0 267.0,274.0 275.0,272.0 282.0,271.0 281.0,264.5" fill="#95CEC2"/>
<polygon points="313.2,195.4 317.5,193.3 322.6,192.5 325.5,194.3 328.4,194.3 330.2,195.1 333.4,198.7 337.3,196.0 340.7,194.7 344.0,196.7 348.0,200.0 351.3,200.7 334.7,304.0 326.0,302.0 320.0,303.0 318.0,299.0 313.0,295.0 312.0,290.0 307.0,281.2 301.3,275.4 295.5,272.0 289.7,268.5 283.4,265.0 281.0,264.5 280.5,261.6 283.9,256.9 286.7,252.0 289.3,244.0 290.8,240.0 291.5,234.8 292.9,230.5 295.8,226.1 299.5,222.5 303.1,220.3 306.0,221.1 308.1,224.7 311.0,222.5 311.7,218.9 313.9,215.3 317.5,211.7 315.3,209.5 313.2,207.3 313.9,204.5 316.1,203.0 317.5,200.8 315.3,197.9" fill="#95CEC2"/>
<polygon points="351.3,200.7 360.0,202.0 366.7,203.3 374.0,204.0 374.7,212.0 378.7,216.0 375.3,219.3 372.0,220.7 366.7,223.3 365.3,228.0 365.3,236.0 364.7,241.3 364.0,246.7 368.0,250.7 370.7,253.3 372.0,260.0 372.0,270.0 371.3,280.7 369.3,290.0 368.0,296.7 369.3,303.3 374.0,308.7 374.7,314.0 370.7,319.3 367.3,320.0 362.7,314.0 353.3,310.0 344.0,307.3 334.7,304.0" fill="#4F98CA"/>
<polygon points="334.7,304.0 344.0,307.3 353.3,310.0 362.7,314.0 367.3,320.0 364.0,322.0 358.7,323.3 357.3,328.7 356.7,334.0 361.3,336.7 368.0,338.0 370.7,344.7 372.0,348.7 380.0,347.3 386.7,346.7 384.0,351.3 381.3,355.3 377.3,354.7 372.0,355.3 366.7,354.0 361.3,355.3 353.3,355.3 346.7,357.3 342.7,354.0 336.0,351.3 327.3,348.0 330.0,331.3" fill="#4169AD"/>
<polygon points="317.4,373.4 320.2,368.3 322.5,367.0 326.6,366.5 330.7,365.6 333.5,366.0 330.7,368.3 328.0,371.1 326.6,374.3 323.4,376.1 318.8,374.3" fill="#6EBDC8"/>
<g fill="none" stroke="#2E4038" stroke-opacity="0.55" stroke-width="1.1" stroke-linejoin="round">
<polygon points="283.6,410.0 287.3,410.8 294.8,412.3 301.0,413.5 304.8,416.0 306.5,420.6 308.3,429.5 315.5,426.0 317.2,419.7 324.4,420.6 326.1,433.1 336.8,434.9 335.0,436.7 327.9,450.9 322.6,459.8 319.0,470.5 304.8,475.9 295.9,486.5 294.1,495.5 292.3,507.9 292.3,514.3 294.1,526.7 303.0,533.9 306.5,541.0 304.8,551.7 301.2,562.4 295.9,574.8 287.0,585.5 281.6,587.3 276.3,594.4 267.4,601.5 254.9,603.3 240.6,602.4 233.5,598.9 228.2,605.1 224.6,611.3 219.3,610.5 213.9,606.9 217.5,601.5 215.7,587.3 217.5,571.3 215.7,558.8 214.8,544.5 217.5,535.6 222.8,526.7 235.3,525.8 246.0,526.7 258.4,525.0 270.9,524.0 272.7,517.8 271.8,507.1 270.9,500.0 270.9,491.9 272.7,477.6 276.3,468.7 281.6,459.8 287.0,449.1 285.2,443.8 282.8,431.7 286.6,422.8 285.8,416.8" fill="none"/>
<polygon points="241.0,370.0 251.0,371.0 259.0,370.0 264.0,369.0 262.0,370.0 265.0,377.0 268.0,384.0 272.0,390.0 275.0,396.0 279.0,402.0 283.6,410.0 285.8,416.8 286.6,422.8 282.8,431.7 285.2,443.8 287.0,449.1 281.6,459.8 276.3,468.7 272.7,477.6 270.9,491.9 270.9,500.0 271.8,507.1 272.7,517.8 270.9,524.0 258.4,525.0 246.0,526.7 235.3,525.8 222.8,526.7 221.0,521.4 222.8,514.3 228.2,500.0 233.5,491.9 237.1,477.6 240.6,465.2 242.4,452.7 244.2,440.2 247.8,436.7 242.4,433.1 238.8,424.2 240.6,417.0 247.8,410.0 247.8,395.7 245.0,389.0 243.0,380.0" fill="none"/>
<polygon points="233.5,598.9 240.6,602.4 254.9,603.3 267.4,601.5 276.3,594.4 281.6,587.3 282.7,587.7 274.7,606.8 270.9,614.0 266.8,622.7 270.0,632.2 273.1,645.0 215.9,645.0 223.8,632.2 225.4,622.7 223.8,613.0 224.6,611.3 228.2,605.1" fill="none"/>
<polygon points="262.0,370.0 277.0,371.0 282.0,374.0 283.0,383.0 284.0,393.0 285.0,401.0 287.3,410.8 283.6,410.0 279.0,402.0 275.0,396.0 272.0,390.0 268.0,384.0 265.0,377.0" fill="none"/>
<polygon points="282.0,374.0 284.0,373.0 297.0,376.0 302.0,382.0 308.0,386.0 299.0,395.0 301.0,402.0 302.0,409.0 304.8,416.0 301.0,413.5 294.8,412.3 287.3,410.8 285.0,401.0 284.0,393.0 283.0,383.0" fill="none"/>
<polygon points="284.0,373.0 292.0,371.0 300.0,369.0 307.0,372.0 313.0,373.0 308.0,386.0 302.0,382.0 297.0,376.0" fill="none"/>
<polygon points="314.0,374.0 318.0,380.0 323.0,384.0 328.0,381.0 334.0,383.0 342.0,387.0 349.0,389.0 355.3,390.7 356.7,400.0 355.3,409.3 352.7,417.3 350.0,424.0 347.5,431.3 336.8,434.9 326.1,433.1 324.4,420.6 317.2,419.7 315.5,426.0 308.3,429.5 306.5,420.6 304.8,416.0 302.0,409.0 301.0,402.0 299.0,395.0 308.0,386.0 313.0,373.0" fill="none"/>
<polygon points="327.3,348.0 336.0,351.3 342.7,354.0 346.7,357.3 353.3,355.3 361.3,355.3 366.7,354.0 372.0,355.3 377.3,354.7 381.3,355.3 383.0,352.0 382.0,364.0 379.3,370.7 376.7,377.3 375.3,384.0 374.0,390.7 372.7,397.3 364.7,398.7 359.3,400.0 355.3,390.7 349.0,389.0 342.0,387.0 334.0,383.0 328.0,381.0 323.0,384.0 318.0,380.0 314.0,374.0 318.0,369.0 321.0,363.0 322.0,357.0 324.0,351.0" fill="none"/>
<polygon points="315.0,351.0 319.0,351.0 324.0,351.0 322.0,357.0 321.0,363.0 318.0,369.0 313.0,373.0 307.0,372.0 300.0,369.0 306.0,365.0 312.0,357.0" fill="none"/>
<polygon points="296.0,335.0 303.0,342.0 310.0,348.0 315.0,351.0 312.0,357.0 306.0,365.0 300.0,369.0 292.0,371.0 284.0,373.0 277.0,371.0 281.0,362.0 285.0,350.0 289.0,340.0 290.0,339.0" fill="none"/>
<polygon points="308.0,319.0 314.0,327.0 322.0,330.0 330.0,331.3 327.3,348.0 324.0,351.0 319.0,351.0 315.0,351.0 310.0,348.0 303.0,342.0 296.0,335.0 300.0,329.0" fill="none"/>
<polygon points="320.0,303.0 326.0,302.0 334.7,304.0 330.0,331.3 322.0,330.0 314.0,327.0 308.0,319.0 310.0,316.0 314.0,309.0" fill="none"/>
<polygon points="241.0,330.0 248.0,326.0 257.0,322.0 265.0,321.0 273.0,322.0 278.0,328.0 282.0,332.0 286.0,336.0 290.0,339.0 289.0,340.0 285.0,350.0 281.0,362.0 277.0,370.0 270.0,371.0 265.0,370.0 261.0,367.0 255.0,365.0 249.0,367.0 247.0,364.0 245.0,358.0 243.0,354.0 245.0,350.0 244.0,343.0 242.0,336.0" fill="none"/>
<polygon points="241.0,330.0 238.0,328.0 234.0,328.0 228.0,333.0 225.0,335.0 220.0,335.0 215.0,335.0 213.3,336.5 217.0,341.0 212.5,347.0 214.0,351.0 219.0,358.0 225.0,366.0 231.0,369.0 241.0,370.0 251.0,371.0 259.0,370.0 264.0,369.0 261.0,367.0 255.0,365.0 249.0,367.0 247.0,364.0 245.0,358.0 243.0,354.0 245.0,350.0 244.0,343.0 242.0,336.0" fill="none"/>
<polygon points="263.0,283.0 273.0,290.0 283.0,296.0 288.0,301.0 286.0,305.0 291.0,313.0 297.0,323.0 300.0,329.0 296.0,335.0 290.0,339.0 286.0,336.0 282.0,332.0 278.0,328.0 273.0,322.0 265.0,321.0 258.0,321.0 254.0,319.0 253.0,315.0 252.0,312.0 249.0,309.0 252.0,304.0 250.0,300.0 252.0,295.0 247.0,293.0 247.0,291.0 255.0,289.0 262.0,287.0" fill="none"/>
<polygon points="283.4,265.0 289.7,268.5 295.5,272.0 301.3,275.4 307.0,281.2 312.0,290.0 313.0,295.0 318.0,299.0 320.0,303.0 314.0,309.0 310.0,316.0 308.0,319.0 300.0,329.0 297.0,323.0 291.0,313.0 286.0,305.0 288.0,301.0 283.0,296.0 273.0,290.0 263.0,283.0 259.0,278.0 261.0,275.0 267.0,274.0 275.0,272.0 282.0,271.0 281.0,264.5" fill="none"/>
<polygon points="313.2,195.4 317.5,193.3 322.6,192.5 325.5,194.3 328.4,194.3 330.2,195.1 333.4,198.7 337.3,196.0 340.7,194.7 344.0,196.7 348.0,200.0 351.3,200.7 334.7,304.0 326.0,302.0 320.0,303.0 318.0,299.0 313.0,295.0 312.0,290.0 307.0,281.2 301.3,275.4 295.5,272.0 289.7,268.5 283.4,265.0 281.0,264.5 280.5,261.6 283.9,256.9 286.7,252.0 289.3,244.0 290.8,240.0 291.5,234.8 292.9,230.5 295.8,226.1 299.5,222.5 303.1,220.3 306.0,221.1 308.1,224.7 311.0,222.5 311.7,218.9 313.9,215.3 317.5,211.7 315.3,209.5 313.2,207.3 313.9,204.5 316.1,203.0 317.5,200.8 315.3,197.9" fill="none"/>
<polygon points="351.3,200.7 360.0,202.0 366.7,203.3 374.0,204.0 374.7,212.0 378.7,216.0 375.3,219.3 372.0,220.7 366.7,223.3 365.3,228.0 365.3,236.0 364.7,241.3 364.0,246.7 368.0,250.7 370.7,253.3 372.0,260.0 372.0,270.0 371.3,280.7 369.3,290.0 368.0,296.7 369.3,303.3 374.0,308.7 374.7,314.0 370.7,319.3 367.3,320.0 362.7,314.0 353.3,310.0 344.0,307.3 334.7,304.0" fill="none"/>
<polygon points="334.7,304.0 344.0,307.3 353.3,310.0 362.7,314.0 367.3,320.0 364.0,322.0 358.7,323.3 357.3,328.7 356.7,334.0 361.3,336.7 368.0,338.0 370.7,344.7 372.0,348.7 380.0,347.3 386.7,346.7 384.0,351.3 381.3,355.3 377.3,354.7 372.0,355.3 366.7,354.0 361.3,355.3 353.3,355.3 346.7,357.3 342.7,354.0 336.0,351.3 327.3,348.0 330.0,331.3" fill="none"/>
<polygon points="317.4,373.4 320.2,368.3 322.5,367.0 326.6,366.5 330.7,365.6 333.5,366.0 330.7,368.3 328.0,371.1 326.6,374.3 323.4,376.1 318.8,374.3" fill="none"/>
</g>
<polygon points="605.1,416.8 608.8,417.6 616.3,419.1 622.5,420.3 626.3,422.8 628.0,427.4 629.8,436.3 637.0,432.8 638.7,426.5 645.9,427.4 647.6,439.9 658.3,441.7 656.5,443.5 649.4,457.7 644.1,466.6 640.5,477.3 626.3,482.7 617.4,493.3 615.6,502.3 613.8,514.7 613.8,521.1 615.6,533.5 624.5,540.7 628.0,547.8 626.3,558.5 622.7,569.2 617.4,581.6 608.5,592.3 603.1,594.1 597.8,601.2 588.9,608.3 576.4,610.1 562.1,609.2 555.0,605.7 549.7,611.9 546.1,618.1 540.8,617.3 535.4,613.7 539.0,608.3 537.2,594.1 539.0,578.1 537.2,565.6 536.3,551.3 539.0,542.4 544.3,533.5 556.8,532.6 567.5,533.5 579.9,531.8 592.4,530.8 594.2,524.6 593.3,513.9 592.4,506.8 592.4,498.7 594.2,484.4 597.8,475.5 603.1,466.6 608.5,455.9 606.7,450.6 604.3,438.5 608.1,429.6 607.3,423.6" fill="#E6EEB9"/>
<polygon points="562.5,376.8 572.5,377.8 580.5,376.8 585.5,375.8 583.5,376.8 586.5,383.8 589.5,390.8 593.5,396.8 596.5,402.8 600.5,408.8 605.1,416.8 607.3,423.6 608.1,429.6 604.3,438.5 606.7,450.6 608.5,455.9 603.1,466.6 597.8,475.5 594.2,484.4 592.4,498.7 592.4,506.8 593.3,513.9 594.2,524.6 592.4,530.8 579.9,531.8 567.5,533.5 556.8,532.6 544.3,533.5 542.5,528.2 544.3,521.1 549.7,506.8 555.0,498.7 558.6,484.4 562.1,472.0 563.9,459.5 565.7,447.0 569.3,443.5 563.9,439.9 560.3,431.0 562.1,423.8 569.3,416.8 569.3,402.5 566.5,395.8 564.5,386.8" fill="#F9F8DB"/>
<polygon points="555.0,605.7 562.1,609.2 576.4,610.1 588.9,608.3 597.8,601.2 603.1,594.1 604.2,594.5 596.2,613.6 592.4,620.8 588.3,629.5 591.5,639.0 594.6,651.8 537.4,651.8 545.3,639.0 546.9,629.5 545.3,619.8 546.1,618.1 549.7,611.9" fill="#F7F7F9"/>
<polygon points="583.5,376.8 598.5,377.8 603.5,380.8 604.5,389.8 605.5,399.8 606.5,407.8 608.8,417.6 605.1,416.8 600.5,408.8 596.5,402.8 593.5,396.8 589.5,390.8 586.5,383.8" fill="#CFE6C1"/>
<polygon points="603.5,380.8 605.5,379.8 618.5,382.8 623.5,388.8 629.5,392.8 620.5,401.8 622.5,408.8 623.5,415.8 626.3,422.8 622.5,420.3 616.3,419.1 608.8,417.6 606.5,407.8 605.5,399.8 604.5,389.8" fill="#E6EEB9"/>
<polygon points="605.5,379.8 613.5,377.8 621.5,375.8 628.5,378.8 634.5,379.8 629.5,392.8 623.5,388.8 618.5,382.8" fill="#CFE6C1"/>
<polygon points="635.5,380.8 639.5,386.8 644.5,390.8 649.5,387.8 655.5,389.8 663.5,393.8 670.5,395.8 676.8,397.5 678.2,406.8 676.8,416.1 674.2,424.1 671.5,430.8 669.0,438.1 658.3,441.7 647.6,439.9 645.9,427.4 638.7,426.5 637.0,432.8 629.8,436.3 628.0,427.4 626.3,422.8 623.5,415.8 622.5,408.8 620.5,401.8 629.5,392.8 634.5,379.8" fill="#CFE6C1"/>
<polygon points="648.8,354.8 657.5,358.1 664.2,360.8 668.2,364.1 674.8,362.1 682.8,362.1 688.2,360.8 693.5,362.1 698.8,361.5 702.8,362.1 704.5,358.8 703.5,370.8 700.8,377.5 698.2,384.1 696.8,390.8 695.5,397.5 694.2,404.1 686.2,405.5 680.8,406.8 676.8,397.5 670.5,395.8 663.5,393.8 655.5,389.8 649.5,387.8 644.5,390.8 639.5,386.8 635.5,380.8 639.5,375.8 642.5,369.8 643.5,363.8 645.5,357.8" fill="#6EBDC8"/>
<polygon points="636.5,357.8 640.5,357.8 645.5,357.8 643.5,363.8 642.5,369.8 639.5,375.8 634.5,379.8 628.5,378.8 621.5,375.8 627.5,371.8 633.5,363.8" fill="#CFE6C1"/>
<polygon points="617.5,341.8 624.5,348.8 631.5,354.8 636.5,357.8 633.5,363.8 627.5,371.8 621.5,375.8 613.5,377.8 605.5,379.8 598.5,377.8 602.5,368.8 606.5,356.8 610.5,346.8 611.5,345.8" fill="#95CEC2"/>
<polygon points="629.5,325.8 635.5,333.8 643.5,336.8 651.5,338.1 648.8,354.8 645.5,357.8 640.5,357.8 636.5,357.8 631.5,354.8 624.5,348.8 617.5,341.8 621.5,335.8" fill="#4169AD"/>
<polygon points="641.5,309.8 647.5,308.8 656.2,310.8 651.5,338.1 643.5,336.8 635.5,333.8 629.5,325.8 631.5,322.8 635.5,315.8" fill="#4F98CA"/>
<polygon points="562.5,336.8 569.5,332.8 578.5,328.8 586.5,327.8 594.5,328.8 599.5,334.8 603.5,338.8 607.5,342.8 611.5,345.8 610.5,346.8 606.5,356.8 602.5,368.8 598.5,376.8 591.5,377.8 586.5,376.8 582.5,373.8 576.5,371.8 570.5,373.8 568.5,370.8 566.5,364.8 564.5,360.8 566.5,356.8 565.5,349.8 563.5,342.8" fill="#E6EEB9"/>
<polygon points="562.5,336.8 559.5,334.8 555.5,334.8 549.5,339.8 546.5,341.8 541.5,341.8 536.5,341.8 534.8,343.3 538.5,347.8 534.0,353.8 535.5,357.8 540.5,364.8 546.5,372.8 552.5,375.8 562.5,376.8 572.5,377.8 580.5,376.8 585.5,375.8 582.5,373.8 576.5,371.8 570.5,373.8 568.5,370.8 566.5,364.8 564.5,360.8 566.5,356.8 565.5,349.8 563.5,342.8" fill="#F9F8DB"/>
<polygon points="584.5,289.8 594.5,296.8 604.5,302.8 609.5,307.8 607.5,311.8 612.5,319.8 618.5,329.8 621.5,335.8 617.5,341.8 611.5,345.8 607.5,342.8 603.5,338.8 599.5,334.8 594.5,328.8 586.5,327.8 579.5,327.8 575.5,325.8 574.5,321.8 573.5,318.8 570.5,315.8 573.5,310.8 571.5,306.8 573.5,301.8 568.5,299.8 568.5,297.8 576.5,295.8 583.5,293.8" fill="#95CEC2"/>
<polygon points="604.9,271.8 611.2,275.3 617.0,278.8 622.8,282.2 628.5,288.0 633.5,296.8 634.5,301.8 639.5,305.8 641.5,309.8 635.5,315.8 631.5,322.8 629.5,325.8 621.5,335.8 618.5,329.8 612.5,319.8 607.5,311.8 609.5,307.8 604.5,302.8 594.5,296.8 584.5,289.8 580.5,284.8 582.5,281.8 588.5,280.8 596.5,278.8 603.5,277.8 602.5,271.3" fill="#95CEC2"/>
<polygon points="634.7,202.2 639.0,200.1 644.1,199.3 647.0,201.1 649.9,201.1 651.7,201.9 654.9,205.5 658.8,202.8 662.2,201.5 665.5,203.5 669.5,206.8 672.8,207.5 656.2,310.8 647.5,308.8 641.5,309.8 639.5,305.8 634.5,301.8 633.5,296.8 628.5,288.0 622.8,282.2 617.0,278.8 611.2,275.3 604.9,271.8 602.5,271.3 602.0,268.4 605.4,263.7 608.2,258.8 610.8,250.8 612.3,246.8 613.0,241.6 614.4,237.3 617.3,232.9 621.0,229.3 624.6,227.1 627.5,227.9 629.6,231.5 632.5,229.3 633.2,225.7 635.4,222.1 639.0,218.5 636.8,216.3 634.7,214.1 635.4,211.3 637.6,209.8 639.0,207.6 636.8,204.7" fill="#6EBDC8"/>
<polygon points="672.8,207.5 681.5,208.8 688.2,210.1 695.5,210.8 696.2,218.8 700.2,222.8 696.8,226.1 693.5,227.5 688.2,230.1 686.8,234.8 686.8,242.8 686.2,248.1 685.5,253.5 689.5,257.5 692.2,260.1 693.5,266.8 693.5,276.8 692.8,287.5 690.8,296.8 689.5,303.5 690.8,310.1 695.5,315.5 696.2,320.8 692.2,326.1 688.8,326.8 684.2,320.8 674.8,316.8 665.5,314.1 656.2,310.8" fill="#4169AD"/>
<polygon points="656.2,310.8 665.5,314.1 674.8,316.8 684.2,320.8 688.8,326.8 685.5,328.8 680.2,330.1 678.8,335.5 678.2,340.8 682.8,343.5 689.5,344.8 692.2,351.5 693.5,355.5 701.5,354.1 708.2,353.5 705.5,358.1 702.8,362.1 698.8,361.5 693.5,362.1 688.2,360.8 682.8,362.1 674.8,362.1 668.2,364.1 664.2,360.8 657.5,358.1 648.8,354.8 651.5,338.1" fill="#243679"/>
<polygon points="638.9,380.2 641.7,375.1 644.0,373.8 648.1,373.3 652.2,372.4 655.0,372.8 652.2,375.1 649.5,377.9 648.1,381.1 644.9,382.9 640.3,381.1" fill="#3F58A6"/>
<g fill="none" stroke="#2E4038" stroke-opacity="0.55" stroke-width="1.1" stroke-linejoin="round">
<polygon points="605.1,416.8 608.8,417.6 616.3,419.1 622.5,420.3 626.3,422.8 628.0,427.4 629.8,436.3 637.0,432.8 638.7,426.5 645.9,427.4 647.6,439.9 658.3,441.7 656.5,443.5 649.4,457.7 644.1,466.6 640.5,477.3 626.3,482.7 617.4,493.3 615.6,502.3 613.8,514.7 613.8,521.1 615.6,533.5 624.5,540.7 628.0,547.8 626.3,558.5 622.7,569.2 617.4,581.6 608.5,592.3 603.1,594.1 597.8,601.2 588.9,608.3 576.4,610.1 562.1,609.2 555.0,605.7 549.7,611.9 546.1,618.1 540.8,617.3 535.4,613.7 539.0,608.3 537.2,594.1 539.0,578.1 537.2,565.6 536.3,551.3 539.0,542.4 544.3,533.5 556.8,532.6 567.5,533.5 579.9,531.8 592.4,530.8 594.2,524.6 593.3,513.9 592.4,506.8 592.4,498.7 594.2,484.4 597.8,475.5 603.1,466.6 608.5,455.9 606.7,450.6 604.3,438.5 608.1,429.6 607.3,423.6" fill="none"/>
<polygon points="562.5,376.8 572.5,377.8 580.5,376.8 585.5,375.8 583.5,376.8 586.5,383.8 589.5,390.8 593.5,396.8 596.5,402.8 600.5,408.8 605.1,416.8 607.3,423.6 608.1,429.6 604.3,438.5 606.7,450.6 608.5,455.9 603.1,466.6 597.8,475.5 594.2,484.4 592.4,498.7 592.4,506.8 593.3,513.9 594.2,524.6 592.4,530.8 579.9,531.8 567.5,533.5 556.8,532.6 544.3,533.5 542.5,528.2 544.3,521.1 549.7,506.8 555.0,498.7 558.6,484.4 562.1,472.0 563.9,459.5 565.7,447.0 569.3,443.5 563.9,439.9 560.3,431.0 562.1,423.8 569.3,416.8 569.3,402.5 566.5,395.8 564.5,386.8" fill="none"/>
<polygon points="555.0,605.7 562.1,609.2 576.4,610.1 588.9,608.3 597.8,601.2 603.1,594.1 604.2,594.5 596.2,613.6 592.4,620.8 588.3,629.5 591.5,639.0 594.6,651.8 537.4,651.8 545.3,639.0 546.9,629.5 545.3,619.8 546.1,618.1 549.7,611.9" fill="none"/>
<polygon points="583.5,376.8 598.5,377.8 603.5,380.8 604.5,389.8 605.5,399.8 606.5,407.8 608.8,417.6 605.1,416.8 600.5,408.8 596.5,402.8 593.5,396.8 589.5,390.8 586.5,383.8" fill="none"/>
<polygon points="603.5,380.8 605.5,379.8 618.5,382.8 623.5,388.8 629.5,392.8 620.5,401.8 622.5,408.8 623.5,415.8 626.3,422.8 622.5,420.3 616.3,419.1 608.8,417.6 606.5,407.8 605.5,399.8 604.5,389.8" fill="none"/>
<polygon points="605.5,379.8 613.5,377.8 621.5,375.8 628.5,378.8 634.5,379.8 629.5,392.8 623.5,388.8 618.5,382.8" fill="none"/>
<polygon points="635.5,380.8 639.5,386.8 644.5,390.8 649.5,387.8 655.5,389.8 663.5,393.8 670.5,395.8 676.8,397.5 678.2,406.8 676.8,416.1 674.2,424.1 671.5,430.8 669.0,438.1 658.3,441.7 647.6,439.9 645.9,427.4 638.7,426.5 637.0,432.8 629.8,436.3 628.0,427.4 626.3,422.8 623.5,415.8 622.5,408.8 620.5,401.8 629.5,392.8 634.5,379.8" fill="none"/>
<polygon points="648.8,354.8 657.5,358.1 664.2,360.8 668.2,364.1 674.8,362.1 682.8,362.1 688.2,360.8 693.5,362.1 698.8,361.5 702.8,362.1 704.5,358.8 703.5,370.8 700.8,377.5 698.2,384.1 696.8,390.8 695.5,397.5 694.2,404.1 686.2,405.5 680.8,406.8 676.8,397.5 670.5,395.8 663.5,393.8 655.5,389.8 649.5,387.8 644.5,390.8 639.5,386.8 635.5,380.8 639.5,375.8 642.5,369.8 643.5,363.8 645.5,357.8" fill="none"/>
<polygon points="636.5,357.8 640.5,357.8 645.5,357.8 643.5,363.8 642.5,369.8 639.5,375.8 634.5,379.8 628.5,378.8 621.5,375.8 627.5,371.8 633.5,363.8" fill="none"/>
<polygon points="617.5,341.8 624.5,348.8 631.5,354.8 636.5,357.8 633.5,363.8 627.5,371.8 621.5,375.8 613.5,377.8 605.5,379.8 598.5,377.8 602.5,368.8 606.5,356.8 610.5,346.8 611.5,345.8" fill="none"/>
<polygon points="629.5,325.8 635.5,333.8 643.5,336.8 651.5,338.1 648.8,354.8 645.5,357.8 640.5,357.8 636.5,357.8 631.5,354.8 624.5,348.8 617.5,341.8 621.5,335.8" fill="none"/>
<polygon points="641.5,309.8 647.5,308.8 656.2,310.8 651.5,338.1 643.5,336.8 635.5,333.8 629.5,325.8 631.5,322.8 635.5,315.8" fill="none"/>
<polygon points="562.5,336.8 569.5,332.8 578.5,328.8 586.5,327.8 594.5,328.8 599.5,334.8 603.5,338.8 607.5,342.8 611.5,345.8 610.5,346.8 606.5,356.8 602.5,368.8 598.5,376.8 591.5,377.8 586.5,376.8 582.5,373.8 576.5,371.8 570.5,373.8 568.5,370.8 566.5,364.8 564.5,360.8 566.5,356.8 565.5,349.8 563.5,342.8" fill="none"/>
<polygon points="562.5,336.8 559.5,334.8 555.5,334.8 549.5,339.8 546.5,341.8 541.5,341.8 536.5,341.8 534.8,343.3 538.5,347.8 534.0,353.8 535.5,357.8 540.5,364.8 546.5,372.8 552.5,375.8 562.5,376.8 572.5,377.8 580.5,376.8 585.5,375.8 582.5,373.8 576.5,371.8 570.5,373.8 568.5,370.8 566.5,364.8 564.5,360.8 566.5,356.8 565.5,349.8 563.5,342.8" fill="none"/>
<polygon points="584.5,289.8 594.5,296.8 604.5,302.8 609.5,307.8 607.5,311.8 612.5,319.8 618.5,329.8 621.5,335.8 617.5,341.8 611.5,345.8 607.5,342.8 603.5,338.8 599.5,334.8 594.5,328.8 586.5,327.8 579.5,327.8 575.5,325.8 574.5,321.8 573.5,318.8 570.5,315.8 573.5,310.8 571.5,306.8 573.5,301.8 568.5,299.8 568.5,297.8 576.5,295.8 583.5,293.8" fill="none"/>
<polygon points="604.9,271.8 611.2,275.3 617.0,278.8 622.8,282.2 628.5,288.0 633.5,296.8 634.5,301.8 639.5,305.8 641.5,309.8 635.5,315.8 631.5,322.8 629.5,325.8 621.5,335.8 618.5,329.8 612.5,319.8 607.5,311.8 609.5,307.8 604.5,302.8 594.5,296.8 584.5,289.8 580.5,284.8 582.5,281.8 588.5,280.8 596.5,278.8 603.5,277.8 602.5,271.3" fill="none"/>
<polygon points="634.7,202.2 639.0,200.1 644.1,199.3 647.0,201.1 649.9,201.1 651.7,201.9 654.9,205.5 658.8,202.8 662.2,201.5 665.5,203.5 669.5,206.8 672.8,207.5 656.2,310.8 647.5,308.8 641.5,309.8 639.5,305.8 634.5,301.8 633.5,296.8 628.5,288.0 622.8,282.2 617.0,278.8 611.2,275.3 604.9,271.8 602.5,271.3 602.0,268.4 605.4,263.7 608.2,258.8 610.8,250.8 612.3,246.8 613.0,241.6 614.4,237.3 617.3,232.9 621.0,229.3 624.6,227.1 627.5,227.9 629.6,231.5 632.5,229.3 633.2,225.7 635.4,222.1 639.0,218.5 636.8,216.3 634.7,214.1 635.4,211.3 637.6,209.8 639.0,207.6 636.8,204.7" fill="none"/>
<polygon points="672.8,207.5 681.5,208.8 688.2,210.1 695.5,210.8 696.2,218.8 700.2,222.8 696.8,226.1 693.5,227.5 688.2,230.1 686.8,234.8 686.8,242.8 686.2,248.1 685.5,253.5 689.5,257.5 692.2,260.1 693.5,266.8 693.5,276.8 692.8,287.5 690.8,296.8 689.5,303.5 690.8,310.1 695.5,315.5 696.2,320.8 692.2,326.1 688.8,326.8 684.2,320.8 674.8,316.8 665.5,314.1 656.2,310.8" fill="none"/>
<polygon points="656.2,310.8 665.5,314.1 674.8,316.8 684.2,320.8 688.8,326.8 685.5,328.8 680.2,330.1 678.8,335.5 678.2,340.8 682.8,343.5 689.5,344.8 692.2,351.5 693.5,355.5 701.5,354.1 708.2,353.5 705.5,358.1 702.8,362.1 698.8,361.5 693.5,362.1 688.2,360.8 682.8,362.1 674.8,362.1 668.2,364.1 664.2,360.8 657.5,358.1 648.8,354.8 651.5,338.1" fill="none"/>
<polygon points="638.9,380.2 641.7,375.1 644.0,373.8 648.1,373.3 652.2,372.4 655.0,372.8 652.2,375.1 649.5,377.9 648.1,381.1 644.9,382.9 640.3,381.1" fill="none"/>
</g>
</g>

<circle cx="320.5" cy="253.5" r="4.4" fill="#4C6FC8" stroke="#1E3163" stroke-width="1.8"/>
<circle cx="354.6" cy="272.2" r="4.4" fill="#4C6FC8" stroke="#1E3163" stroke-width="1.8"/>
<circle cx="342.1" cy="331.9" r="5" fill="#4A6CB8" stroke="#D6E4FA" stroke-width="2.2"/>
<circle cx="296" cy="292.5" r="4.4" fill="#4C6FC8" stroke="#1E3163" stroke-width="1.8"/>
<circle cx="274.3" cy="311" r="4.4" fill="#4C6FC8" stroke="#1E3163" stroke-width="1.8"/>
<circle cx="263.5" cy="348" r="4.4" fill="#4C6FC8" stroke="#1E3163" stroke-width="1.8"/>
<circle cx="230.5" cy="350" r="4.8" fill="#E0201E" stroke="#8E1412" stroke-width="1.4"/>
<circle cx="321.5" cy="318" r="4.4" fill="#4C6FC8" stroke="#1E3163" stroke-width="1.8"/>
<circle cx="314" cy="338" r="4.4" fill="#4C6FC8" stroke="#1E3163" stroke-width="1.8"/>
<circle cx="294.5" cy="355" r="4.4" fill="#4C6FC8" stroke="#1E3163" stroke-width="1.8"/>
<circle cx="311" cy="365" r="4.4" fill="#4C6FC8" stroke="#1E3163" stroke-width="1.8"/>
<circle cx="350.5" cy="375" r="4.4" fill="#4C6FC8" stroke="#1E3163" stroke-width="1.8"/>
<circle cx="304.5" cy="378" r="3.4" fill="#4C6FC8" stroke="#1E3163" stroke-width="1.4"/>
<circle cx="322.5" cy="371.1" r="2.6" fill="#2F6478" stroke="#24505E" stroke-width="0.8"/>
<circle cx="292.5" cy="391" r="4.4" fill="#4C6FC8" stroke="#1E3163" stroke-width="1.8"/>
<circle cx="326.5" cy="405.5" r="4.4" fill="#4C6FC8" stroke="#1E3163" stroke-width="1.8"/>
<circle cx="273.5" cy="381" r="4.8" fill="#E0201E" stroke="#8E1412" stroke-width="1.4"/>
<circle cx="258.4" cy="460" r="4.8" fill="#E0201E" stroke="#8E1412" stroke-width="1.4"/>
<circle cx="254.9" cy="562.4" r="4.8" fill="#E0201E" stroke="#8E1412" stroke-width="1.4"/>
<circle cx="641.8" cy="262" r="4.8" fill="#E0201E" stroke="#8E1412" stroke-width="1.4"/>
<circle cx="679.3" cy="278.5" r="5" fill="#4A6CB8" stroke="#D6E4FA" stroke-width="2.2"/>
<circle cx="667.1" cy="340.4" r="5" fill="#4A6CB8" stroke="#D6E4FA" stroke-width="2.2"/>
<circle cx="622.8" cy="302.6" r="4.8" fill="#E0201E" stroke="#8E1412" stroke-width="1.4"/>
<circle cx="600.9" cy="322.2" r="4.8" fill="#E0201E" stroke="#8E1412" stroke-width="1.4"/>
<circle cx="588.3" cy="355.6" r="4.8" fill="#E0201E" stroke="#8E1412" stroke-width="1.4"/>
<circle cx="555.6" cy="358.6" r="4.8" fill="#E0201E" stroke="#8E1412" stroke-width="1.4"/>
<circle cx="645.3" cy="324.3" r="5" fill="#4A6CB8" stroke="#D6E4FA" stroke-width="2.2"/>
<circle cx="637.7" cy="346" r="4.8" fill="#E0201E" stroke="#8E1412" stroke-width="1.4"/>
<circle cx="618.9" cy="363.9" r="5" fill="#4A6CB8" stroke="#D6E4FA" stroke-width="2.2"/>
<circle cx="633.8" cy="370.1" r="5" fill="#4A6CB8" stroke="#D6E4FA" stroke-width="2.2"/>
<circle cx="679.1" cy="383.2" r="4.8" fill="#E0201E" stroke="#8E1412" stroke-width="1.4"/>
<circle cx="644.2" cy="378.7" r="2.6" fill="#D81E1E" stroke="#7A1010" stroke-width="1"/>
<circle cx="625.3" cy="383.9" r="3.4" fill="#E0201E" stroke="#8E1412" stroke-width="1.2"/>
<circle cx="598.9" cy="389.7" r="4.8" fill="#E0201E" stroke="#8E1412" stroke-width="1.4"/>
<circle cx="617.7" cy="403" r="4.8" fill="#E0201E" stroke="#8E1412" stroke-width="1.4"/>
<circle cx="652.6" cy="412" r="4.8" fill="#E0201E" stroke="#8E1412" stroke-width="1.4"/>
<circle cx="583.8" cy="467.6" r="4.8" fill="#E0201E" stroke="#8E1412" stroke-width="1.4"/>
<circle cx="580.5" cy="571.5" r="4.8" fill="#E0201E" stroke="#8E1412" stroke-width="1.4"/>
</svg>
<div class="num" style="left:109.0px;width:80px;text-align:center">7</div>
<div class="num" style="left:173.8px;width:80px;text-align:center">9</div>
<div class="num" style="left:238.6px;width:80px;text-align:center">11</div>
<div class="num" style="left:303.3px;width:80px;text-align:center">13</div>
<div class="num" style="left:368.1px;width:80px;text-align:center">15</div>
<div class="num" style="left:432.9px;width:80px;text-align:center">17</div>
<div class="num" style="left:497.7px;width:80px;text-align:center">19</div>
<div class="num" style="left:562.5px;width:80px;text-align:center">21</div>
<div class="num" style="left:627.2px;width:80px;text-align:center">23</div>
<div class="num" style="left:692.0px;width:80px;text-align:center">25</div>
<div id="vel" class="abs">Velocidad de descarga (Mbps)</div>
<div class="big" style="left:297px;top:611.8px">2023-T3</div>
<div class="big" style="left:620px;top:608.5px">2024-T1</div>
<div id="foot" class="abs">Fuente: CRC con base en lo reportado por los PRSTM a través del Formato T.2.6.</div>
</body></html>
